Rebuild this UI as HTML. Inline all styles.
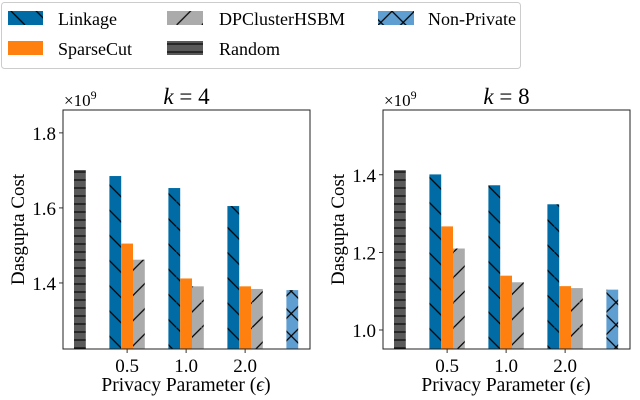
<!DOCTYPE html>
<html><head><meta charset="utf-8"><style>
body{margin:0;background:#fff;}
svg{display:block;font-family:"Liberation Serif","DejaVu Serif",serif;}
</style></head><body>
<svg id="c" width="640" height="400" xmlns="http://www.w3.org/2000/svg">
<defs>
<pattern id="hLink" width="14" height="14" patternUnits="userSpaceOnUse" patternTransform="scale(1.8)"><rect width="14" height="14" fill="#006BA4"/><path d="M-1,-1 L15,15" stroke="#000" stroke-width="0.7"/></pattern>
<pattern id="hDP" width="14" height="14" patternUnits="userSpaceOnUse" patternTransform="scale(1.8)"><rect width="14" height="14" fill="#ABABAB"/><path d="M-1,15 L15,-1" stroke="#000" stroke-width="0.7"/></pattern>
<pattern id="hRand" width="10" height="8" patternUnits="userSpaceOnUse"><rect width="10" height="8" fill="#595959"/><path d="M0,4 L10,4" stroke="#000" stroke-width="1.1"/></pattern>
<pattern id="hNP" width="14" height="14" patternUnits="userSpaceOnUse" patternTransform="scale(1.6)"><rect width="14" height="14" fill="#5F9ED1"/><path d="M-1,-1 L15,15 M-1,15 L15,-1" stroke="#000" stroke-width="0.8"/></pattern>
</defs>
<g>
<rect x="1.5" y="2.5" width="519" height="66" rx="3" fill="#fff" stroke="#ccc"/>
<rect x="8" y="11" width="35" height="14" fill="url(#hLink)"/>
<text x="58" y="25" font-size="18">Linkage</text>
<rect x="8" y="41" width="35" height="14" fill="#FF800E"/>
<text x="58" y="55" font-size="18">SparseCut</text>
<rect x="167" y="11" width="36" height="14" fill="url(#hDP)"/>
<text x="219" y="25" font-size="18">DPClusterHSBM</text>
<rect x="167" y="41" width="36" height="14" fill="url(#hRand)"/>
<text x="219" y="55" font-size="18">Random</text>
<rect x="378" y="11" width="36" height="14" fill="url(#hNP)"/>
<text x="428" y="25" font-size="18">Non-Private</text>
</g>
</svg>
<script>
const epsLabels=["0.5","1.0","2.0"];
const k4Linkage=[1.685,1.653,1.605];
const k4Sparse=[1.505,1.412,1.391];
const k4DP=[1.462,1.391,1.384];
const k4Random=1.701;
const k4NonPrivate=1.381;
const k4Ticks=[1.4,1.6,1.8];
const k8Linkage=[1.401,1.373,1.324];
const k8Sparse=[1.267,1.140,1.113];
const k8DP=[1.210,1.123,1.108];
const k8Random=1.412;
const k8NonPrivate=1.104;
const k8Ticks=[1.0,1.2,1.4];
const NS="http://www.w3.org/2000/svg";
const svg=document.getElementById('c');
function mk(t,a,p){const e=document.createElementNS(NS,t);for(const k in a)e.setAttribute(k,a[k]);(p||svg).appendChild(e);return e;}
function panel(ox,ymin,ymax,title,link,sparse,dp,rnd,np,ticks,nm){
  const L=ox+63,R=ox+310,T=110,B=349;
  const g=mk('g',{});
  
  
  const y=v=>B-(v-ymin)/(ymax-ymin)*(B-T);
  const bw=11.8;
  const slot=i=>L+11+i*bw;
  function bar(i,v,fill,name){
    const r=mk('rect',{x:slot(i),y:y(v),width:bw,height:B-y(v),fill:fill},g);
    
    
  }
  bar(0,rnd,'url(#hRand)','bar-random');
  const gstart=[3,8,13];
  for(let j=0;j<3;j++){
    bar(gstart[j],link[j],'url(#hLink)','bar-linkage-'+epsLabels[j]);
    bar(gstart[j]+1,sparse[j],'#FF800E','bar-sparsecut-'+epsLabels[j]);
    bar(gstart[j]+2,dp[j],'url(#hDP)','bar-dpclusterhsbm-'+epsLabels[j]);
    const cx=slot(gstart[j]+1)+bw/2;
    mk('line',{x1:cx,x2:cx,y1:B,y2:B+4,stroke:'#000','stroke-width':0.8},g);
    const t=mk('text',{x:cx,y:B+23,'font-size':19,'text-anchor':'middle'},g);t.textContent=epsLabels[j];
    
    
  }
  bar(18,np,'url(#hNP)','bar-non-private');
  ticks.forEach(v=>{
    mk('line',{x1:L-4,x2:L,y1:y(v),y2:y(v),stroke:'#000','stroke-width':0.8},g);
    const t=mk('text',{x:L-7,y:y(v)+7,'font-size':19,'text-anchor':'end'},g);t.textContent=v.toFixed(1);
    
    
  });
  mk('rect',{x:L,y:T,width:R-L,height:B-T,fill:'none',stroke:'#222','stroke-width':1},g);
  const tt=mk('text',{x:(L+R)/2,y:104,'font-size':23,'text-anchor':'middle'},g);
  tt.innerHTML='<tspan font-style="italic">k</tspan> = '+title;
  
  
  const m=mk('text',{x:L+1,y:106,'font-size':17},g);
  m.innerHTML='×10<tspan font-size="12" dy="-7">9</tspan>';
  
  
  const yl=mk('text',{x:0,y:0,'font-size':19,'text-anchor':'middle',transform:`translate(${ox+24},${(T+B)/2}) rotate(-90)`},g);
  yl.textContent='Dasgupta Cost';
  
  
  const xl=mk('text',{x:ox+186,y:391,'font-size':19.5,'text-anchor':'middle'},g);
  xl.innerHTML='Privacy Parameter (<tspan font-style="italic">ϵ</tspan>)';
  
  
}
panel(0,1.224,1.861,'4',k4Linkage,k4Sparse,k4DP,k4Random,k4NonPrivate,k4Ticks,'panel-k4');
panel(320,0.951,1.567,'8',k8Linkage,k8Sparse,k8DP,k8Random,k8NonPrivate,k8Ticks,'panel-k8');
</script>
</body></html>
